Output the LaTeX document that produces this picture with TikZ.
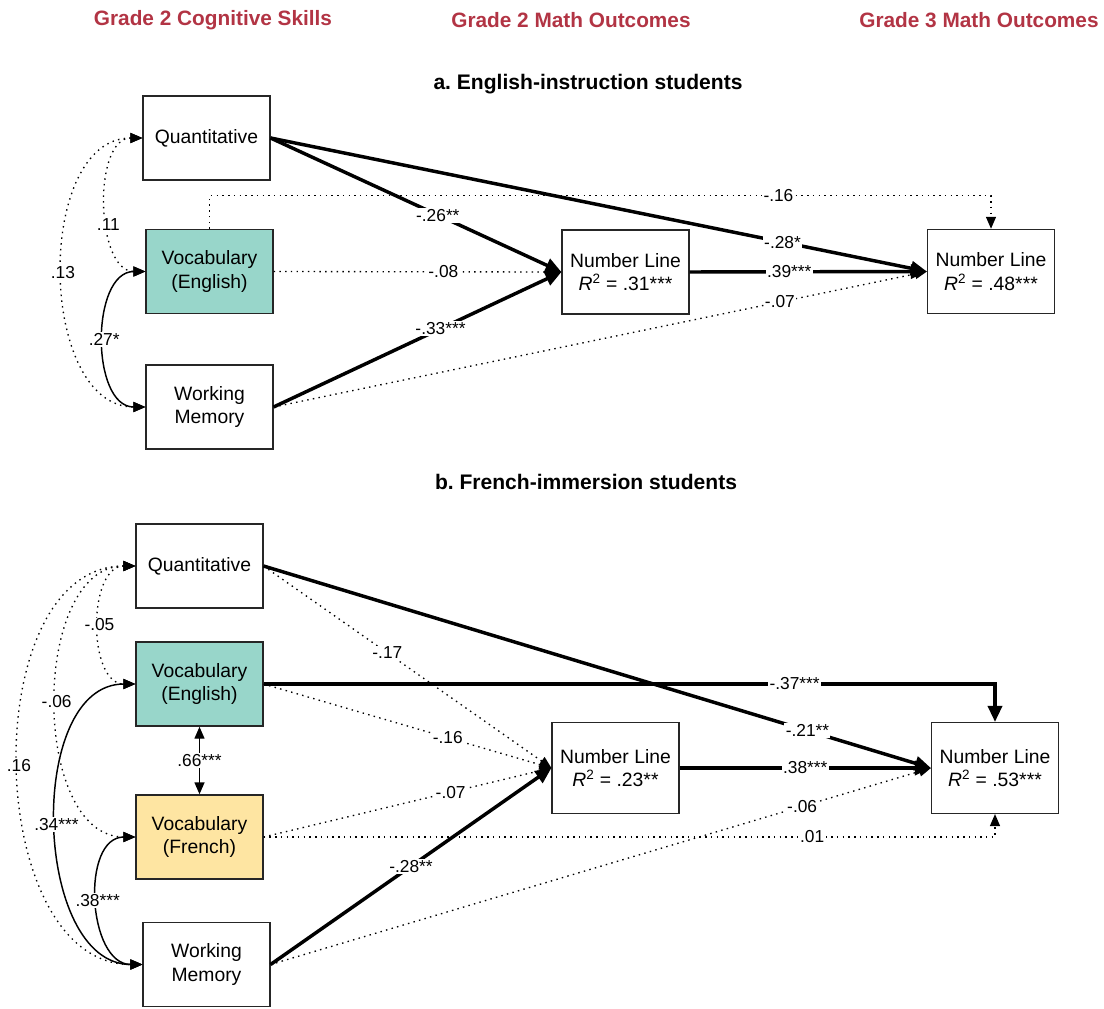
\documentclass[tikz,border=0pt]{standalone}
\usepackage{fontspec}
\setmainfont{Liberation Sans}
\usetikzlibrary{arrows.meta,positioning,calc}
\usepackage{xcolor}
\definecolor{headred}{RGB}{178, 52, 68}
\definecolor{vocteal}{RGB}{152, 214, 202}
\definecolor{vocyellow}{RGB}{254, 229, 162}
\frenchspacing

\begin{document}
\begin{tikzpicture}[x=0.75pt, y=-0.75pt,
    box/.style={draw=black!85, line width=1.1pt, minimum width=95pt, minimum height=63pt, inner sep=0pt, align=center, font=\fontsize{14.5}{17.5}\selectfont},
    head/.style={font=\fontsize{15.6}{18}\selectfont\bfseries, text=headred},
    paneltitle/.style={font=\fontsize{15.8}{18}\selectfont\bfseries},
    coef/.style={fill=white, inner sep=1pt, font=\fontsize{13}{15}\selectfont},
    strong/.style={line width=2.6pt, -{Triangle[length=12pt, width=10.5pt]}},
    weak/.style={line width=1pt, dash pattern=on 1.1pt off 3.2pt, -{Triangle[length=9pt, width=7.5pt]}},
    cov/.style={line width=1.1pt, {Triangle[length=9pt, width=7.5pt]}-{Triangle[length=9pt, width=7.5pt]}},
    dcov/.style={cov, line width=1pt, dash pattern=on 1.1pt off 3.2pt}]
    \useasboundingbox (0,0) rectangle (1104,1008);

    % Column headings
    \node[head] (h1) at (213, 20) {Grade 2 Cognitive Skills};
    \node[head] (h2) at (571, 20) {Grade 2 Math Outcomes};
    \node[head] (h3) at (979, 20) {Grade 3 Math Outcomes};

    % ---------------- a. English-instruction students
    \node[paneltitle] (ta) at (588, 84) {a. English-instruction students};
    \node[box] (qa) at (206.5, 138) {Quantitative};
    \node[box, fill=vocteal] (va) at (209.5, 271.5) {Vocabulary\\(English)};
    \node[box] (wa) at (209.5, 407) {Working\\Memory};
    \node[box] (n2a) at (625.5, 272) {Number Line\\\textit{R}\textsuperscript{2} = .31***};
    \node[box] (n3a) at (991, 271.5) {Number Line\\\textit{R}\textsuperscript{2} = .48***};

    % Paths to grade 2 and grade 3 outcomes
    \draw[weak] (va.north) -- ++(0,-33) -| node[coef, pos=0.364]{-.16} (n3a.north);
    \draw[strong] (qa.east) -- node[coef, pos=0.575]{-.26**} (n2a.west);
    \draw[strong] (qa.east) -- node[coef, pos=0.78]{-.28*} (n3a.west);
    \draw[weak] (va.east) -- node[coef, pos=0.59]{-.08} (n2a.west);
    \draw[weak] (wa.east) -- node[coef, pos=0.775]{-.07} (n3a.west);
    \draw[strong] (wa.east) -- node[coef, pos=0.58]{-.33***} (n2a.west);
    \draw[strong] (n2a.east) -- node[coef, pos=0.42]{.39***} (n3a.west);

    % Covariances
    \draw[dcov] (qa.west) .. controls +(-50,0) and +(-50,0) .. node[coef, pos=0.6]{.11} (va.west);
    \draw[dcov] (qa.west) .. controls +(-108,0) and +(-108,0) .. node[coef]{.13} (wa.west);
    \draw[cov] (va.west) .. controls +(-55,0) and +(-55,0) .. node[coef]{.27*} (wa.west);

    % ---------------- b. French-immersion students
    \node[paneltitle] (tb) at (586, 482) {b. French-immersion students};
    \node[box] (qb) at (199.5, 566) {Quantitative};
    \node[box, fill=vocteal] (veb) at (199.5, 684) {Vocabulary\\(English)};
    \node[box, fill=vocyellow] (vfb) at (199.5, 837) {Vocabulary\\(French)};
    \node[box] (wb) at (206.5, 964.5) {Working\\Memory};
    \node[box, minimum height=68pt] (n2b) at (615.5, 768) {Number Line\\\textit{R}\textsuperscript{2} = .23**};
    \node[box, minimum height=68pt] (n3b) at (995, 768) {Number Line\\\textit{R}\textsuperscript{2} = .53***};

    % Paths to grade 2 and grade 3 outcomes
    \draw[weak] (qb.east) -- node[coef, pos=0.43]{-.17} (n2b.west);
    \draw[weak] (veb.east) -- node[coef, pos=0.64]{-.16} (n2b.west);
    \draw[weak] (vfb.east) -- node[coef, pos=0.65]{-.07} (n2b.west);
    \draw[weak] (vfb.east) -| node[coef, pos=0.375]{.01} (n3b.south);
    \draw[weak] (wb.east) -- node[coef, pos=0.805]{-.06} (n3b.west);
    \draw[strong] (veb.east) -| node[coef, pos=0.363]{-.37***} (n3b.north);
    \draw[strong] (qb.east) -- node[coef, pos=0.815]{-.21**} (n3b.west);
    \draw[strong] (wb.east) -- node[coef, pos=0.5]{-.28**} (n2b.west);
    \draw[strong] (n2b.east) -- node[coef, pos=0.5]{.38***} (n3b.west);

    % Covariances
    \draw[dcov] (qb.west) .. controls +(-48,0) and +(-48,0) .. node[coef]{-.05} (veb.west);
    \draw[dcov] (qb.west) .. controls +(-105,0) and +(-105,0) .. node[coef]{-.06} (vfb.west);
    \draw[dcov] (qb.west) .. controls +(-160,0) and +(-160,0) .. node[coef]{.16} (wb.west);
    \draw[cov] (veb.west) .. controls +(-110,0) and +(-110,0) .. node[coef]{.34***} (wb.west);
    \draw[cov] (vfb.west) .. controls +(-55,0) and +(-55,0) .. node[coef]{.38***} (wb.west);
    \draw[cov] (veb.south) -- node[coef]{.66***} (vfb.north);
\end{tikzpicture}
\end{document}
